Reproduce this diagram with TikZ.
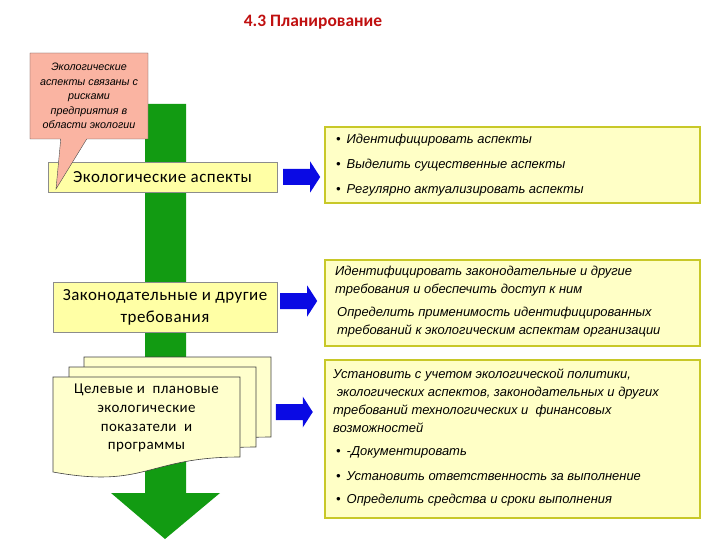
\documentclass[tikz,border=0pt]{standalone}
\usepackage{fontspec}
\setmainfont{Carlito}
\newfontfamily\stagefont[LetterSpace=3]{Carlito}
\newfontfamily\notefont{Liberation Sans}
\usetikzlibrary{shapes.callouts,calc}

\definecolor{stagefill}{RGB}{255,255,165}
\definecolor{notefill}{RGB}{255,255,198}
\definecolor{noteedge}{RGB}{200,200,40}
\definecolor{pagefill}{RGB}{255,255,205}
\definecolor{flowgreen}{RGB}{18,155,18}
\definecolor{flowblue}{RGB}{10,10,228}
\definecolor{calloutfill}{RGB}{250,180,162}
\definecolor{titlered}{RGB}{192,16,16}

\newcommand\bluearrow[1]{\fill[flowblue] (#1) ++(0,-8) -- ++(27,0) -- ++(0,-7.5) -- ++(10,15.5) -- ++(-10,15.5) -- ++(0,-7.5) -- ++(-27,0) -- cycle;}
\newcommand\docpage[2]{\filldraw[page] (#1,#2) -- ++(187,0) -- ++(0,80)
  .. controls ($(#1,#2)+(93.5,80)$) and ($(#1,#2)+(93.5,112)$) .. ($(#1,#2)+(0,95)$) -- cycle;}

\begin{document}
\begin{tikzpicture}[
  x=1bp, y=-1bp,
  title/.style={font=\bfseries\fontsize{17.5}{20}\selectfont, text=titlered},
  stage/.style={draw=black!45, fill=stagefill, align=center, inner sep=0pt, font=\stagefont\fontsize{17}{22}\selectfont},
  todo/.style={draw=noteedge, line width=2.5bp, fill=notefill, inner sep=0pt},
  item/.style={font=\notefont\itshape\fontsize{13}{18}\selectfont, anchor=west, align=left, inner sep=0pt},
  page/.style={draw=black!75, line width=0.6bp, fill=pagefill},
  note/.style={rectangle callout, draw=black!70, fill=calloutfill, align=center, inner sep=0pt,
    font=\notefont\itshape\fontsize{10.8}{14.5}\selectfont}
]
\useasboundingbox (0,0) rectangle (720,540);
\node[title] (head) at (313,22) {4.3 Планирование};

\fill[flowgreen] (145,104) -- (186,104) -- (186,493) -- (220,493) -- (165,539) -- (111,493) -- (145,493) -- cycle;

\node[stage, minimum width=229bp, minimum height=30bp] (eco) at (162.5,177) {Экологические аспекты};
\node[stage, minimum width=224bp, minimum height=50bp] (law) at (165,307) {Законодательные и другие\\требования};
\docpage{84}{357}
\docpage{69}{367}
\docpage{53}{377}
\node[align=center, font=\stagefont\fontsize{15}{19}\selectfont] (goals) at (146.5,418) {Целевые и~ плановые\\экологические\\показатели~ и\\программы};

\node[note, minimum width=118bp, minimum height=86bp, callout absolute pointer={(56,189)}, callout pointer width=26bp] (risk) at (89,96)
  {Экологические\\аспекты связаны с\\рисками\\предприятия в\\области экологии};

\node[todo, minimum width=375bp, minimum height=76bp] (ecoto) at (512.5,165) {};
\node[todo, minimum width=375bp, minimum height=86bp] (lawto) at (512.5,303) {};
\node[todo, minimum width=375bp, minimum height=158bp] (goalto) at (512.5,439) {};

\node[item] (e1) at (336,140) {\textbullet\hspace{6bp}Идентифицировать аспекты};
\node[item] (e2) at (336,165) {\textbullet\hspace{6bp}Выделить существенные аспекты};
\node[item] (e3) at (336,190) {\textbullet\hspace{6bp}Регулярно актуализировать аспекты};

\node[item] (l1) at (335,281) {Идентифицировать законодательные и другие\\требования и обеспечить доступ к ним};
\node[item] (l2) at (337,322) {Определить применимость идентифицированных\\требований к экологическим аспектам организации};

\node[item] (g0) at (333,401) {Установить с учетом экологической политики,\\\ экологических аспектов, законодательных и других\\требований технологических и~ финансовых\\возможностей};
\node[item] (g1) at (336,452) {\textbullet\hspace{6bp}-Документировать};
\node[item] (g2) at (336,476) {\textbullet\hspace{6bp}Установить ответственность за выполнение};
\node[item] (g3) at (336,500) {\textbullet\hspace{6bp}Определить средства и сроки выполнения};

\bluearrow{$(eco.east)+(6,0)$}
\bluearrow{$(law.east)+(3,-6)$}
\bluearrow{$(goalto.west)+(-48,-27)$}
\end{tikzpicture}
\end{document}
